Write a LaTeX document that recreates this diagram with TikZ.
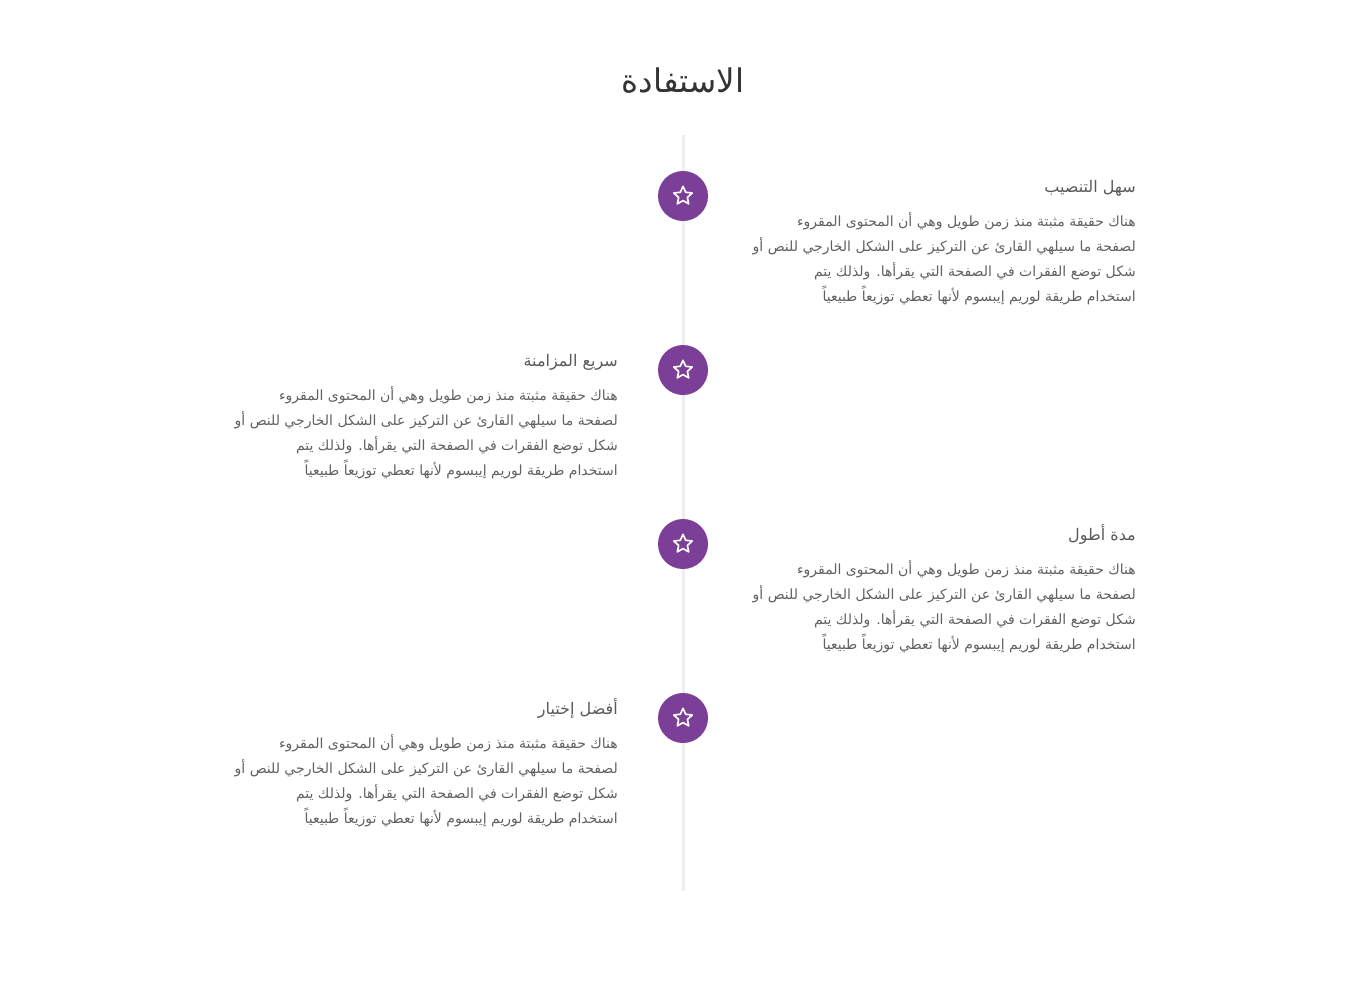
\documentclass[tikz,border=0pt]{standalone}
\usepackage{fontspec}
\usetikzlibrary{shapes.geometric}
\TeXXeTstate=1
\newfontfamily\arabicfont[Script=Arabic]{DejaVu Sans}
\definecolor{plum}{HTML}{7B3F98}
\definecolor{spine}{HTML}{EEEEEE}
\newcommand{\ar}[1]{\beginR #1\endR}
\newcommand{\bodytext}{\ar{هناك حقيقة مثبتة منذ زمن طويل وهي أن المحتوى المقروء}\\
    \ar{لصفحة ما سيلهي القارئ عن التركيز على الشكل الخارجي للنص أو}\\
    \ar{شكل توضع الفقرات في الصفحة التي يقرأها. ولذلك يتم}\\
    \ar{استخدام طريقة لوريم إيبسوم لأنها تعطي توزيعاً طبيعياً}}
\tikzset{
    badge/.style={circle, fill=plum, minimum size=37.5pt, inner sep=0pt},
    staricon/.style={star, star points=5, star point ratio=2.1, draw=white, line width=1.25pt,
        line join=round, minimum size=14.5pt, inner sep=0pt},
    heading/.style={anchor=base east, inner sep=0pt, text=black!65, font=\arabicfont\fontsize{12}{14}\selectfont},
    para/.style={anchor=base east, inner sep=0pt, align=right, text=black!62,
        font=\arabicfont\fontsize{10.5}{18.75}\selectfont},
}
\begin{document}
\begin{tikzpicture}[x=.75pt, y=-.75pt]
    \useasboundingbox (0,0) rectangle (1366,981);

    \node[anchor=base, inner sep=0pt, text=black!80, font=\arabicfont\fontsize{24.4}{28}\selectfont] (title) at (683,93) {\ar{الاستفادة}};

    \coordinate (top) at (683.5,135);
    \coordinate (bottom) at (683.5,891);
    \draw [spine, line width=2.4pt] (top) -- (bottom);

    \foreach \name/\y in {one/196, two/370, three/544, four/718} {
        \node[badge] (\name) at (683,\y) {};
        \node[staricon] (star\name) at (683,\y) {};
    }

    \node[heading] (headone) at (1136,192) {\ar{سهل التنصيب}};
    \node[para] (paraone) at (1136,301) {\bodytext};

    \node[heading] (headtwo) at (618,366) {\ar{سريع المزامنة}};
    \node[para] (paratwo) at (618,475) {\bodytext};

    \node[heading] (headthree) at (1136,540) {\ar{مدة أطول}};
    \node[para] (parathree) at (1136,649) {\bodytext};

    \node[heading] (headfour) at (618,714) {\ar{أفضل إختيار}};
    \node[para] (parafour) at (618,823) {\bodytext};
\end{tikzpicture}
\end{document}
